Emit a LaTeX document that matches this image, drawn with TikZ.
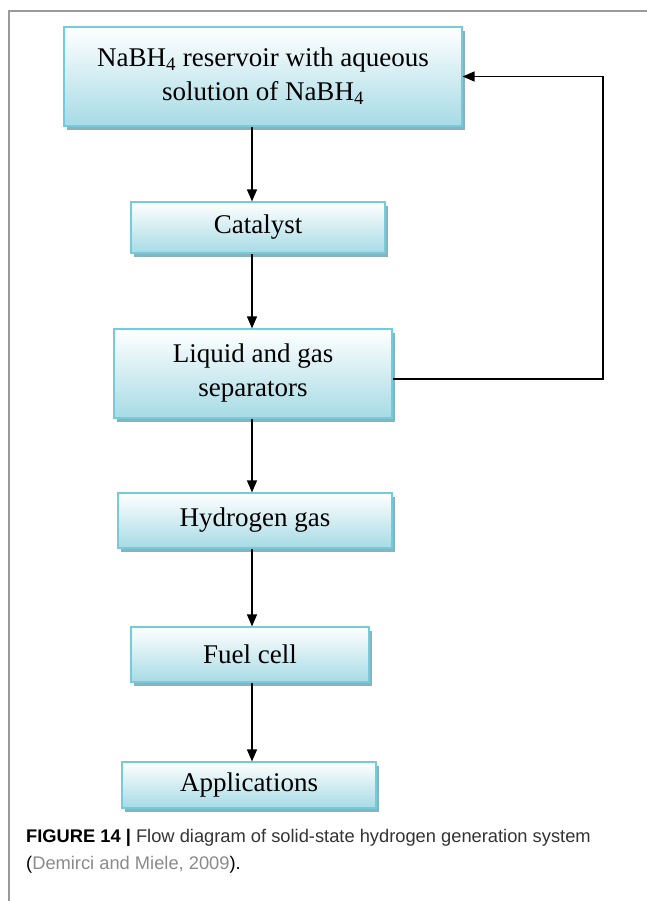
\documentclass[tikz,border=0pt]{standalone}
\usepackage{fontspec}
\setmainfont{Liberation Serif}
\newfontfamily\capfont{Liberation Sans}
\usepackage{xcolor}
\usepackage{tikz}
\usetikzlibrary{positioning,arrows.meta,shadows}

\definecolor{boxedge}{HTML}{72CCDD}
\definecolor{boxbottom}{HTML}{A6DBE5}
\definecolor{boxshadow}{HTML}{8DB1B7}
\definecolor{framegray}{HTML}{9A9A9A}
\definecolor{captext}{HTML}{333333}
\definecolor{citegray}{HTML}{8A8A8A}

\tikzset{
  stage/.style={draw=boxedge, line width=1.2pt, top color=white, bottom color=boxbottom,
    drop shadow={shadow xshift=3pt, shadow yshift=-4pt, fill=boxshadow, opacity=1},
    align=center, inner sep=0pt, font=\fontsize{27}{34}\selectfont},
  flow/.style={-{Triangle[width=10pt,length=12pt]}, line width=1.3pt},
  capline/.style={anchor=base west, inner sep=0pt, font=\capfont\fontsize{18.3}{25}\selectfont},
}

\begin{document}
\begin{tikzpicture}[x=1pt, y=-1pt]
    \useasboundingbox (0,0) rectangle (647,901);

    % Frame
    \draw[framegray, line width=1.3pt] (9,901) -- (9,11) -- (647,11);

    % Stages
    \node[stage, minimum width=398pt, minimum height=99pt] (res) at (263,76.5)
        {NaBH\textsubscript{4} reservoir with aqueous\\solution of NaBH\textsubscript{4}};
    \node[stage, minimum width=254pt, minimum height=51pt] (cat) at (258,227.5) {Catalyst};
    \node[stage, minimum width=278pt, minimum height=89pt] (sep) at (253,373.5)
        {Liquid and gas\\separators};
    \node[stage, minimum width=274pt, minimum height=55pt] (hyd) at (255,520.5) {Hydrogen gas};
    \node[stage, minimum width=238pt, minimum height=55pt] (fc) at (250,654.5) {Fuel cell};
    \node[stage, minimum width=254pt, minimum height=46pt] (app) at (249,785) {Applications};

    % Arrows
    \coordinate (spine) at (252,0);
    \draw[flow] (spine |- res.south) -- (spine |- cat.north);
    \draw[flow] (spine |- cat.south) -- (spine |- sep.north);
    \draw[flow] (spine |- sep.south) -- (spine |- hyd.north);
    \draw[flow] (spine |- hyd.south) -- (spine |- fc.north);
    \draw[flow] (spine |- fc.south) -- (spine |- app.north);

    % Return line
    \coordinate (ret) at (603,379);
    \draw[flow] (sep.east |- ret) -- (ret) |- (res.east);

    % Caption
    \node[capline] (cap1) at (26,842)
        {\textbf{FIGURE 14 |} \textcolor{captext}{Flow diagram of solid-state hydrogen generation system}};
    \node[capline] (cap2) at (26,869)
        {(\textcolor{citegray}{Demirci and Miele, 2009}).};
\end{tikzpicture}
\end{document}
